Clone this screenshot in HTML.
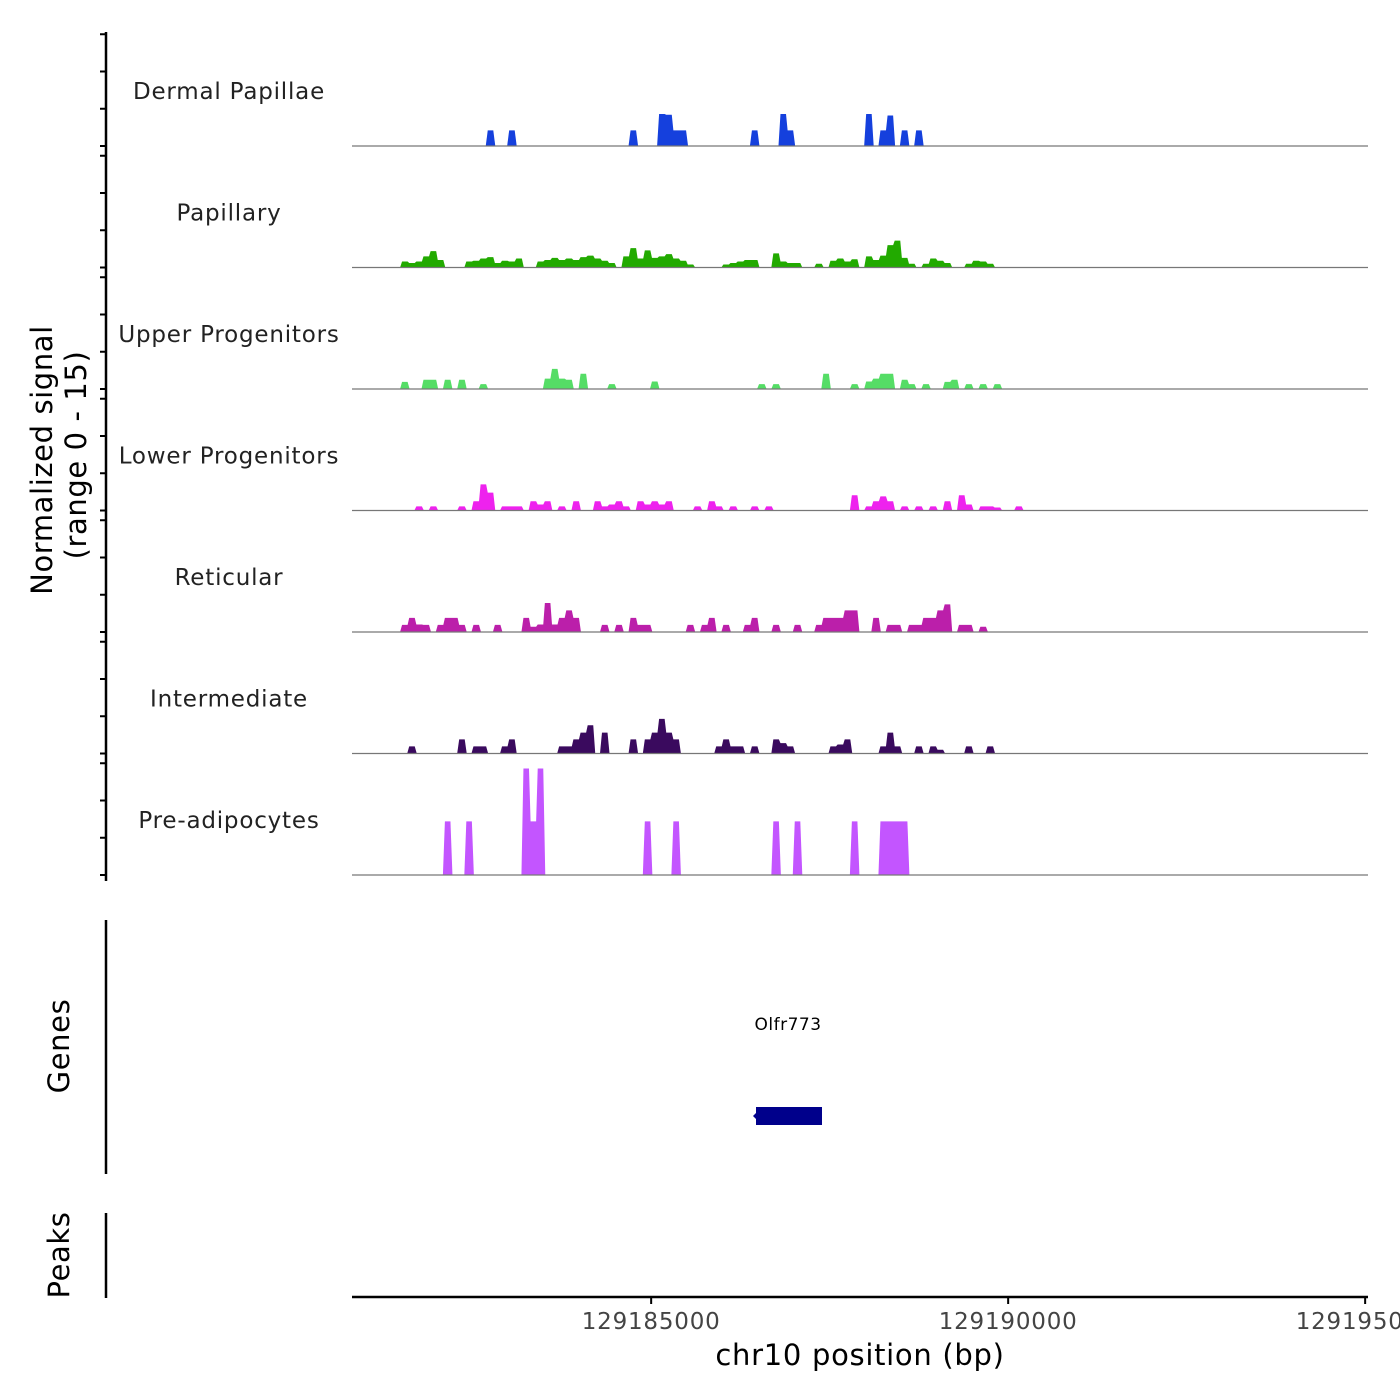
<!DOCTYPE html>
<html><head><meta charset="utf-8"><style>
html,body{margin:0;padding:0;background:#fff;}
svg{display:block;font-family:"DejaVu Sans","Liberation Sans",sans-serif;}
</style></head><body>
<svg id="chart" width="1400" height="1400" viewBox="0 0 1400 1400" xmlns="http://www.w3.org/2000/svg">
<g id="tracks"></g>
<g id="yaxis"></g>
<text transform="translate(52,460) rotate(-90)" text-anchor="middle" font-size="29" letter-spacing="0.6" fill="#000">Normalized signal</text>
<text transform="translate(86,455) rotate(-90)" text-anchor="middle" font-size="29" letter-spacing="0.6" fill="#000">(range 0 - 15)</text>
<line x1="106" y1="920" x2="106" y2="1174" stroke="#000" stroke-width="2.5"/>
<text transform="translate(69,1046) rotate(-90)" text-anchor="middle" font-size="29" letter-spacing="0.6" fill="#000">Genes</text>
<text x="788" y="1030" text-anchor="middle" font-size="17" letter-spacing="0.5" fill="#000">Olfr773</text>
<rect x="756" y="1107" width="66" height="18" fill="#00008b"/>
<polygon points="753,1116 757,1112 757,1120" fill="#00008b"/>
<line x1="106" y1="1213" x2="106" y2="1298" stroke="#000" stroke-width="2.5"/>
<text transform="translate(69,1255) rotate(-90)" text-anchor="middle" font-size="29" letter-spacing="0.6" fill="#000">Peaks</text>
<g id="xaxis"></g>
<text x="860" y="1365" text-anchor="middle" font-size="29" letter-spacing="0.7" fill="#000">chr10 position (bp)</text>
</svg>
<script>
const trackNames = ["Dermal Papillae","Papillary","Upper Progenitors","Lower Progenitors","Reticular","Intermediate","Pre-adipocytes"];
const trackColors = ["#1540dd","#22aa00","#55dd66","#ee22ee","#bb1faa","#3a0a5e","#c355ff"];
const binStart = 129181000;
const binSize = 100;
const dermalBins = [17,20,37,41,42,43,44,54,58,59,70,72,73,75,77];
const dermalVals = [2.1,2.1,2.1,4.3,4.2,2.1,2.1,2.1,4.3,2.1,4.3,2.1,4.1,2.1,2.1];
const papillaryBins = [5,6,7,8,9,10,14,15,16,17,18,19,20,21,24,25,26,27,28,29,30,31,32,33,34,36,37,38,39,40,41,42,43,44,45,50,51,52,53,54,57,58,59,60,63,65,66,67,68,70,71,72,73,74,75,76,78,79,80,81,84,85,86,87];
const papillaryVals = [0.8,0.6,0.8,1.5,2.2,1.0,0.8,0.9,1.2,1.4,0.6,0.9,0.8,1.2,0.8,1.0,1.3,1.0,1.2,1.0,1.4,1.6,1.2,0.9,0.6,1.5,2.6,1.2,2.3,1.3,1.5,1.8,1.2,0.9,0.4,0.4,0.6,0.8,1.0,1.0,1.9,0.8,0.6,0.6,0.5,0.9,1.2,0.8,1.1,1.5,1.0,1.6,3.0,3.6,1.3,0.5,0.5,1.2,0.9,0.6,0.5,0.9,0.8,0.5];
const upperBins = [5,8,9,11,13,16,25,26,27,28,30,34,40,55,57,64,68,70,71,72,73,75,76,78,81,82,84,86,88];
const upperVals = [0.95,1.25,1.25,1.25,1.25,0.65,1.4,2.7,1.4,1.25,2.05,0.65,1.0,0.65,0.65,2.05,0.65,1.0,1.4,2.05,2.05,1.25,0.65,0.65,0.95,1.25,0.65,0.65,0.65];
const lowerBins = [7,9,13,15,16,17,19,20,21,23,24,25,27,29,32,33,34,35,36,38,39,40,41,42,46,48,49,51,54,56,68,70,71,72,73,75,77,79,81,83,84,86,87,88,91];
const lowerVals = [0.55,0.55,0.55,1.25,3.5,2.4,0.55,0.55,0.55,1.25,0.8,1.25,0.55,1.25,1.25,0.55,0.8,1.25,0.55,1.25,0.8,1.25,0.8,1.25,0.55,1.25,0.55,0.55,0.55,0.55,2.05,0.55,1.25,1.9,1.25,0.55,0.55,0.55,1.25,2.05,0.8,0.55,0.55,0.4,0.55];
const reticularBins = [5,6,7,8,10,11,12,13,15,18,22,23,24,25,26,27,28,29,33,35,37,38,39,45,47,48,50,53,54,57,60,63,64,65,66,67,68,71,73,74,76,77,78,79,80,81,83,84,86];
const reticularVals = [0.95,1.9,1.0,0.95,0.95,1.9,1.9,0.95,0.95,0.95,1.9,0.7,1.0,3.9,1.0,1.9,2.9,1.9,0.95,0.95,1.9,0.95,0.95,0.95,0.95,1.9,0.95,0.95,1.9,0.95,0.95,0.95,1.9,1.9,1.9,2.9,2.9,1.9,0.95,0.95,0.95,0.95,1.9,1.9,2.9,3.7,0.95,0.95,0.7];
const intermBins = [6,13,15,16,19,20,27,28,29,30,31,33,37,39,40,41,42,43,49,50,51,52,54,57,58,59,65,66,67,72,73,74,77,79,80,84,87];
const intermVals = [0.95,1.9,0.95,0.95,0.95,1.9,0.95,0.95,1.9,2.8,3.8,2.8,1.9,1.9,2.8,4.65,2.8,1.9,0.95,1.9,0.95,0.95,0.95,1.9,1.4,0.95,0.95,1.2,1.9,0.95,2.8,0.95,0.95,0.95,0.5,0.95,0.95];
const preBins = [11,14,22,23,24,39,43,57,60,68,72,73,74,75];
const preVals = [7.2,7.2,14.3,7.2,14.3,7.2,7.2,7.2,7.2,7.2,7.2,7.2,7.2,7.2];
const xTickValues = [129185000,129190000,129195000];
const xTickLabels = ["129185000","129190000","129195000"];
const yTickValues = [0,5,10,15];

const allBins = [dermalBins,papillaryBins,upperBins,lowerBins,reticularBins,intermBins,preBins];
const allVals = [dermalVals,papillaryVals,upperVals,lowerVals,reticularVals,intermVals,preVals];

const NS = "http://www.w3.org/2000/svg";
const X0 = 352, X1 = 1368, D0 = 129180810, D1 = 129195040;
function xScale(bp){ return X0 + (bp - D0) * (X1 - X0) / (D1 - D0); }
function baseline(i){ return 146 + 121.5 * i; }
function yScale(i, v){ return baseline(i) - v * 7.45; }
function mk(tag, attrs, parent){ const e = document.createElementNS(NS, tag); for (const k in attrs) e.setAttribute(k, attrs[k]); parent.appendChild(e); return e; }

const tracks = document.getElementById('tracks');
const yaxis = document.getElementById('yaxis');
for (let i = 0; i < trackNames.length; i++) {
  const b = baseline(i);
  const g = mk('g', {}, tracks);
  
  
  const label = mk('text', {x: 229, y: b - 47, 'text-anchor': 'middle', 'font-size': 23, fill: '#222', 'letter-spacing': '0.8'}, g);
  
  
  label.textContent = trackNames[i];
  const bins = allBins[i], vals = allVals[i];
  let run = [];
  const runs = [];
  for (let k = 0; k < bins.length; k++) {
    if (run.length && bins[k] !== run[run.length - 1][0] + 1) { runs.push(run); run = []; }
    run.push([bins[k], vals[k]]);
  }
  if (run.length) runs.push(run);
  for (const r of runs) {
    const pts = [];
    const xs = xScale(binStart + r[0][0] * binSize);
    pts.push((xs - 1.2) + ',' + b);
    for (const [bi, v] of r) {
      const a = xScale(binStart + bi * binSize), c = xScale(binStart + (bi + 1) * binSize);
      const y = yScale(i, v);
      pts.push((a + 0.8) + ',' + y, (c - 0.8) + ',' + y);
    }
    const xe = xScale(binStart + (r[r.length - 1][0] + 1) * binSize);
    pts.push((xe + 1.2) + ',' + b);
    const p = mk('polygon', {points: pts.join(' '), fill: trackColors[i]}, g);
    
    
  }
  const ln = mk('line', {x1: X0, y1: b, x2: X1, y2: b, stroke: '#777', 'stroke-width': 1.2}, g);
  
  
  for (const tv of yTickValues) {
    const ty = yScale(i, tv);
    const t = mk('line', {x1: 100, y1: ty, x2: 106, y2: ty, stroke: '#000', 'stroke-width': 2}, yaxis);
    
    
  }
}
const yl = mk('line', {x1: 106, y1: 32, x2: 106, y2: 881, stroke: '#000', 'stroke-width': 2.5}, yaxis);



const xaxis = document.getElementById('xaxis');
const xl = mk('line', {x1: X0, y1: 1297, x2: X1, y2: 1297, stroke: '#000', 'stroke-width': 2.5}, xaxis);


for (let k = 0; k < xTickValues.length; k++) {
  const x = xScale(xTickValues[k]);
  const t = mk('line', {x1: x, y1: 1297, x2: x, y2: 1304, stroke: '#000', 'stroke-width': 2}, xaxis);
  
  
  const tl = mk('text', {x: x, y: 1329, 'text-anchor': 'middle', 'font-size': 23, fill: '#444', 'letter-spacing': '0.8'}, xaxis);
  
  
  tl.textContent = xTickLabels[k];
}
</script>
</body></html>
